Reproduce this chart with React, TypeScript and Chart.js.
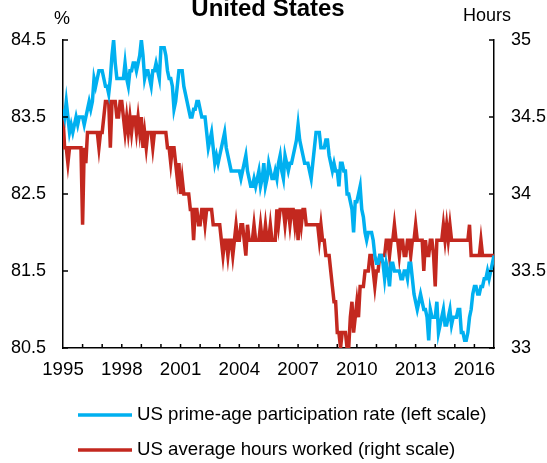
import { useEffect, useRef } from 'react';
import { Chart, registerables } from 'chart.js';

Chart.register(...registerables);

const startYear = 1995;
const endYear = 2017;
const xLabelYears = [1995, 1998, 2001, 2004, 2007, 2010, 2013, 2016];
const leftTicks = [80.5, 81.5, 82.5, 83.5, 84.5];
const rightTicks = [33, 33.5, 34, 34.5, 35];
const titleText = 'United States';
const leftUnit = '%';
const rightUnit = 'Hours';
const seriesNames = [
  'US prime-age participation rate (left scale)',
  'US average hours worked (right scale)',
];

// Monthly, Jan 1995 .. Jan 2017
const participationRate = [
  83.6, 83.5, 83.7, 83.5, 83.3, 83.4, 83.3, 83.4, 83.5, 83.4, 83.5, 83.5, // 1995
  83.5, 83.4, 83.5, 83.6, 83.7, 83.6, 83.7, 84.0, 83.9, 84.0, 84.1, 84.1, // 1996
  84.1, 84.0, 83.9, 83.9, 83.8, 84.0, 84.3, 84.5, 84.2, 84.0, 84.0, 84.0, // 1997
  84.0, 84.0, 84.2, 84.0, 83.9, 84.1, 84.1, 84.2, 84.2, 84.1, 84.2, 84.3, // 1998
  84.5, 84.3, 84.0, 84.1, 84.1, 84.0, 83.9, 84.1, 84.1, 84.2, 84.1, 84.0, // 1999
  84.4, 84.4, 84.4, 84.3, 84.1, 84.0, 84.0, 83.9, 83.6, 83.7, 83.9, 84.1, // 2000
  84.1, 84.1, 83.9, 83.8, 83.7, 83.6, 83.5, 83.5, 83.6, 83.6, 83.7, 83.7, // 2001
  83.6, 83.5, 83.5, 83.5, 83.3, 83.1, 83.2, 83.3, 83.1, 82.9, 83.0, 82.9, // 2002
  83.0, 83.1, 83.2, 83.3, 83.1, 83.0, 82.9, 82.8, 82.8, 82.8, 82.8, 82.8, // 2003
  82.8, 82.7, 82.8, 82.9, 83.0, 82.8, 82.7, 82.6, 82.6, 82.7, 82.6, 82.7, // 2004
  82.8, 82.6, 82.7, 82.9, 82.6, 82.7, 82.9, 82.8, 82.7, 82.7, 82.8, 82.7, // 2005
  82.9, 83.0, 82.8, 82.7, 83.0, 82.9, 82.8, 82.9, 82.9, 83.0, 83.1, 83.2, // 2006
  83.4, 83.2, 83.1, 83.0, 82.9, 82.9, 82.9, 82.8, 82.7, 82.9, 83.1, 83.3, // 2007
  83.3, 83.3, 83.1, 83.1, 83.1, 83.2, 83.2, 83.0, 82.9, 82.8, 82.9, 82.8, // 2008
  82.8, 82.6, 82.9, 82.9, 82.8, 82.8, 82.5, 82.5, 82.4, 82.3, 82.0, 82.4, // 2009
  82.4, 82.5, 82.6, 82.3, 82.2, 82.0, 81.9, 82.0, 82.0, 82.0, 81.9, 81.7, // 2010
  81.6, 81.6, 81.7, 81.7, 81.6, 81.4, 81.6, 81.5, 81.3, 81.6, 81.6, 81.5, // 2011
  81.5, 81.5, 81.5, 81.4, 81.4, 81.5, 81.5, 81.4, 81.6, 81.6, 81.4, 81.2, // 2012
  81.1, 81.0, 81.1, 81.2, 81.1, 81.0, 81.0, 80.9, 80.6, 81.0, 80.9, 80.9, // 2013
  80.9, 81.1, 80.7, 80.8, 80.9, 81.0, 80.8, 80.8, 80.9, 81.0, 80.8, 80.9, // 2014
  80.9, 80.9, 81.0, 81.0, 80.7, 80.7, 80.6, 80.6, 80.7, 80.9, 81.0, 81.2, // 2015
  81.3, 81.3, 81.2, 81.2, 81.3, 81.3, 81.4, 81.4, 81.5, 81.4, 81.5, 81.6, // 2016
  81.7, // 2017
];

const hoursWorked = [
  34.5, 34.3, 34.3, 34.2, 34.3, 34.3, 34.3, 34.3, 34.3, 34.3, 34.3, 34.3, // 1995
  33.8, 34.3, 34.2, 34.4, 34.4, 34.4, 34.4, 34.4, 34.4, 34.4, 34.3, 34.4, // 1996
  34.4, 34.5, 34.6, 34.6, 34.6, 34.3, 34.6, 34.6, 34.6, 34.5, 34.5, 34.6, // 1997
  34.6, 34.5, 34.4, 34.5, 34.4, 34.5, 34.4, 34.5, 34.5, 34.4, 34.5, 34.4, // 1998
  34.5, 34.3, 34.4, 34.3, 34.4, 34.4, 34.4, 34.3, 34.4, 34.4, 34.4, 34.4, // 1999
  34.4, 34.4, 34.4, 34.4, 34.3, 34.3, 34.2, 34.3, 34.3, 34.2, 34.1, 34.2, // 2000
  34.0, 34.1, 34.0, 34.0, 34.0, 34.0, 33.9, 33.9, 33.7, 33.9, 33.9, 33.8, // 2001
  33.8, 33.9, 33.9, 33.8, 33.9, 33.9, 33.9, 33.9, 33.8, 33.8, 33.8, 33.8, // 2002
  33.8, 33.7, 33.6, 33.7, 33.7, 33.6, 33.7, 33.7, 33.6, 33.7, 33.8, 33.7, // 2003
  33.7, 33.8, 33.8, 33.7, 33.6, 33.8, 33.7, 33.7, 33.7, 33.8, 33.7, 33.7, // 2004
  33.7, 33.8, 33.7, 33.7, 33.8, 33.7, 33.7, 33.8, 33.7, 33.7, 33.7, 33.9, // 2005
  33.8, 33.9, 33.9, 33.9, 33.8, 33.9, 33.9, 33.8, 33.9, 33.9, 33.8, 33.9, // 2006
  33.7, 33.9, 33.8, 33.9, 33.9, 33.8, 33.8, 33.8, 33.8, 33.8, 33.8, 33.8, // 2007
  33.8, 33.7, 33.8, 33.7, 33.7, 33.6, 33.6, 33.6, 33.5, 33.4, 33.3, 33.3, // 2008
  33.1, 33.1, 33.0, 33.1, 33.1, 33.1, 33.0, 33.0, 33.2, 33.3, 33.1, 33.2, // 2009
  33.3, 33.2, 33.4, 33.4, 33.4, 33.5, 33.5, 33.5, 33.6, 33.6, 33.5, 33.4, // 2010
  33.5, 33.5, 33.6, 33.6, 33.6, 33.6, 33.7, 33.7, 33.6, 33.7, 33.7, 33.8, // 2011
  33.7, 33.7, 33.6, 33.7, 33.7, 33.6, 33.6, 33.7, 33.7, 33.6, 33.7, 33.7, // 2012
  33.8, 33.7, 33.7, 33.7, 33.7, 33.5, 33.7, 33.6, 33.6, 33.7, 33.7, 33.6, // 2013
  33.4, 33.7, 33.7, 33.7, 33.7, 33.8, 33.7, 33.8, 33.7, 33.8, 33.7, 33.7, // 2014
  33.7, 33.7, 33.7, 33.7, 33.7, 33.7, 33.7, 33.7, 33.7, 33.8, 33.6, 33.6, // 2015
  33.6, 33.6, 33.6, 33.6, 33.7, 33.6, 33.6, 33.6, 33.6, 33.6, 33.6, 33.6, // 2016
  33.6, // 2017
];

const BLUE = '#00B0F0';
const RED = '#C3281F';
const FONT = '"Liberation Sans", Arial, sans-serif';
const W = 547;
const H = 463;

const toPoints = (arr: number[]) =>
  arr.map((v, i) => ({ x: startYear + i / 12, y: v }));

const decorPlugin = {
  id: 'decor',
  afterDraw(chart: any) {
    const { ctx, chartArea, scales } = chart;
    ctx.save();
    ctx.strokeStyle = '#000';
    ctx.lineWidth = 1.5;
    const line = (x1: number, y1: number, x2: number, y2: number) => {
      ctx.beginPath();
      ctx.moveTo(x1, y1);
      ctx.lineTo(x2, y2);
      ctx.stroke();
    };
    for (let yr = startYear + 1; yr < endYear; yr++) {
      const px = scales.x.getPixelForValue(yr);
      line(px, chartArea.bottom, px, chartArea.bottom - 4);
    }
    leftTicks.forEach((v) => {
      const py = scales.y.getPixelForValue(v);
      line(chartArea.left, py, chartArea.left + 5, py);
    });
    rightTicks.forEach((v) => {
      const py = scales.y1.getPixelForValue(v);
      line(chartArea.right, py, chartArea.right - 5, py);
    });

    ctx.fillStyle = '#000';
    ctx.textBaseline = 'alphabetic';
    ctx.textAlign = 'center';
    ctx.font = `bold 24px ${FONT}`;
    ctx.fillText(titleText, 268, 16);
    ctx.font = `18px ${FONT}`;
    ctx.fillText(leftUnit, 62, 24);
    ctx.fillText(rightUnit, 487, 21);

    // legend
    const colors = [BLUE, RED];
    const rows = [415, 450];
    ctx.font = `18.67px ${FONT}`;
    ctx.textAlign = 'left';
    ctx.textBaseline = 'middle';
    seriesNames.forEach((name, i) => {
      ctx.strokeStyle = colors[i];
      ctx.lineWidth = 3.5;
      line(78, rows[i], 132, rows[i]);
      ctx.fillStyle = '#000';
      ctx.fillText(name, 137, rows[i]);
    });
    ctx.restore();
  },
};

export default function App() {
  const ref = useRef<HTMLCanvasElement>(null);

  useEffect(() => {
    if (!ref.current) return;
    const xFont = { family: FONT, size: 18.67 };
    const yFont = { family: FONT, size: 18 };
    const chart = new Chart(ref.current, {
      type: 'line',
      data: {
        datasets: [
          {
            label: seriesNames[0],
            data: toPoints(participationRate),
            borderColor: BLUE,
            backgroundColor: BLUE,
            borderWidth: 3.5,
            pointRadius: 0,
            tension: 0,
            yAxisID: 'y',
          },
          {
            label: seriesNames[1],
            data: toPoints(hoursWorked),
            borderColor: RED,
            backgroundColor: RED,
            borderWidth: 3.5,
            pointRadius: 0,
            tension: 0,
            yAxisID: 'y1',
          },
        ],
      },
      options: {
        responsive: false,
        animation: false,
        layout: { padding: { top: 40, left: 0, right: 0, bottom: 0 } },
        plugins: {
          legend: { display: false },
          title: { display: false },
          tooltip: { enabled: false },
        },
        scales: {
          x: {
            type: 'linear',
            min: startYear,
            max: endYear,
            afterFit: (s: any) => {
              s.height = H - 348;
            },
            ticks: {
              stepSize: 1,
              autoSkip: false,
              maxRotation: 0,
              padding: 11,
              color: '#000',
              font: xFont,
              callback: (v: any) => (xLabelYears.includes(Number(v)) ? String(v) : ''),
            },
            grid: { display: true, drawOnChartArea: false, drawTicks: false },
            border: { display: true, color: '#000', width: 1.5 },
          },
          y: {
            position: 'left',
            min: 80.5,
            max: 84.5,
            afterFit: (s: any) => {
              s.width = 63;
            },
            ticks: {
              stepSize: 1,
              padding: 17,
              color: '#000',
              font: yFont,
              callback: (v: any) => Number(v).toFixed(1),
            },
            grid: { display: true, drawOnChartArea: false, drawTicks: false },
            border: { display: true, color: '#000', width: 1.5 },
          },
          y1: {
            position: 'right',
            min: 33,
            max: 35,
            afterFit: (s: any) => {
              s.width = W - 494;
            },
            ticks: {
              stepSize: 0.5,
              padding: 17,
              color: '#000',
              font: yFont,
              callback: (v: any) => String(Number(v)),
            },
            grid: { display: true, drawOnChartArea: false, drawTicks: false },
            border: { display: true, color: '#000', width: 1.5 },
          },
        },
      },
      plugins: [decorPlugin],
    });
    return () => chart.destroy();
  }, []);

  return (
    <div style={{ position: 'fixed', left: 0, top: 0, width: W, height: H, background: '#fff' }}>
      <canvas ref={ref} width={W} height={H} style={{ width: W, height: H, display: 'block' }} />
    </div>
  );
}
